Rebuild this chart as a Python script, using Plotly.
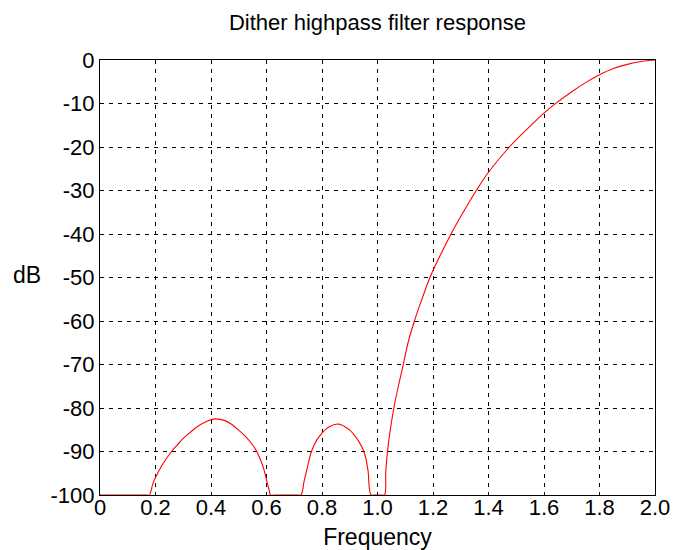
import plotly.graph_objects as go

# Magnitude response of the dither highpass filter (dB, floored at -100)
freq = [0.0, 0.17, 0.178, 0.19, 0.2, 0.225, 0.258, 0.28, 0.3, 0.325, 0.35, 0.38, 0.414, 0.45,
        0.475, 0.5, 0.525, 0.55, 0.565, 0.58, 0.59, 0.6, 0.61, 0.615, 0.63,
        0.71, 0.724, 0.735, 0.745, 0.762, 0.78, 0.8, 0.815, 0.83, 0.845, 0.861, 0.88, 0.9,
        0.915, 0.93, 0.951, 0.965, 0.977,
        0.99, 1.015, 1.025, 1.03, 1.036, 1.045, 1.059, 1.075, 1.093, 1.11, 1.133, 1.16, 1.189,
        1.22, 1.265, 1.3, 1.356, 1.4, 1.475, 1.555, 1.6, 1.64, 1.7, 1.75, 1.8, 1.85, 1.9,
        1.95, 2.0]
gain_db = [-100, -100, -100, -97.5, -96.0, -93.0, -90.0, -88.4, -87.0, -85.6, -84.3, -83.2, -82.5, -82.9,
           -83.8, -85.1, -86.6, -88.5, -90.0, -92.2, -94.0, -96.5, -99.0, -100, -100,
           -100, -100, -97.0, -94.3, -90.0, -87.5, -85.8, -84.8, -84.2, -83.8, -83.7, -84.2, -85.1,
           -86.1, -87.4, -90.0, -94.0, -100,
           -100, -100, -100, -94.5, -90.0, -85.5, -80.0, -75.0, -70.0, -65.0, -60.0, -55.0, -50.0,
           -45.7, -40.0, -36.0, -30.0, -25.8, -20.0, -14.9, -12.2, -10.1, -7.3, -5.2, -3.4, -1.95, -1.0,
           -0.35, 0.0]

x_ticks = [0, 0.2, 0.4, 0.6, 0.8, 1.0, 1.2, 1.4, 1.6, 1.8, 2.0]
x_tick_text = ["0", "0.2", "0.4", "0.6", "0.8", "1.0", "1.2", "1.4", "1.6", "1.8", "2.0"]
y_ticks = [0, -10, -20, -30, -40, -50, -60, -70, -80, -90, -100]
y_tick_text = [str(v) for v in y_ticks]

FONT = "Liberation Sans, Arial, Helvetica, sans-serif"

fig = go.Figure()
fig.add_trace(go.Scatter(x=freq, y=gain_db, mode="lines",
                         line=dict(color="#ff0000", width=1.1, shape="spline", smoothing=1.1),
                         showlegend=False, hoverinfo="skip"))

axis_common = dict(
    showgrid=True, gridcolor="#000000", gridwidth=1, griddash="4px,5px",
    showline=True, linecolor="#000000", linewidth=1.2, mirror=True,
    zeroline=False, ticks="", automargin=False,
    tickfont=dict(family=FONT, size=22, color="#000000"),
)

fig.update_xaxes(range=[0, 2], tickvals=x_ticks, ticktext=x_tick_text,
                 ticklabelstandoff=-8,
                 title=dict(text="Frequency", font=dict(family=FONT, size=23, color="#000000"),
                            standoff=14),
                 **axis_common)
fig.update_yaxes(range=[-100, 0], tickvals=y_ticks, ticktext=y_tick_text,
                 ticklabelstandoff=0, **axis_common)

fig.add_annotation(text="dB", xref="paper", yref="paper", x=-0.131, y=0.505,
                   xanchor="center", yanchor="middle", showarrow=False,
                   font=dict(family=FONT, size=23, color="#000000"))

fig.update_layout(
    width=675, height=550,
    margin=dict(l=100, r=20, t=60, b=55),
    paper_bgcolor="#ffffff", plot_bgcolor="#ffffff",
    title=dict(text="Dither highpass filter response", x=0.5, xref="paper",
               y=1 - 22 / 550, yref="container", xanchor="center", yanchor="middle",
               font=dict(family=FONT, size=22, color="#000000")),
)

fig.write_html("out.html")
